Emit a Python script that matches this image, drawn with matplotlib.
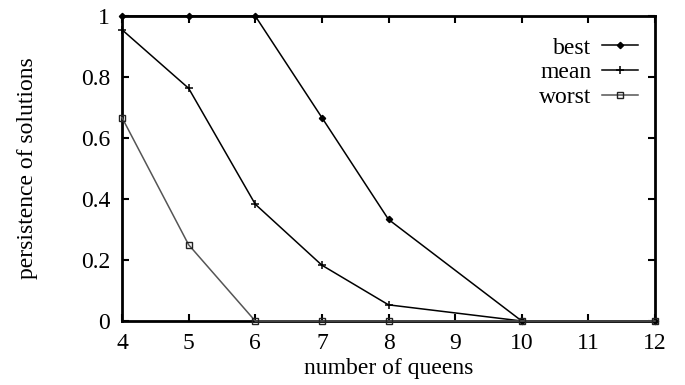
import matplotlib
matplotlib.use("Agg")
import matplotlib.pyplot as plt

queens = [4, 5, 6, 7, 8, 10, 12]
best = [1.0, 1.0, 1.0, 0.667, 0.333, 0.0, 0.0]
mean = [0.955, 0.763, 0.383, 0.183, 0.053, 0.0, 0.0]
worst = [0.667, 0.25, 0.0, 0.0, 0.0, 0.0, 0.0]

plt.rcParams['font.family'] = ['Liberation Serif', 'DejaVu Serif']
plt.rcParams['font.size'] = 17

fig = plt.figure(figsize=(6.85, 3.85), dpi=100)
ax = fig.add_axes([122/685, 1 - 321/385, (655-122)/685, (321-16)/385])

ax.plot(queens, best, color='black', lw=1.1, marker='D', ms=3.2, label='best', clip_on=False, zorder=3)
ax.plot(queens, mean, color='black', lw=1.1, marker='+', ms=5.5, mew=1.1, label='mean', clip_on=False, zorder=3)
ax.plot(queens, worst, color='#555555', lw=1.1, marker='s', ms=3.8, mfc='none', mec='#222222', mew=1.0, label='worst', clip_on=False, zorder=3)

ax.set_xlim(4, 12)
ax.set_ylim(0, 1)
ax.set_xticks(range(4, 13))
ax.set_yticks([0, 0.2, 0.4, 0.6, 0.8, 1])
ax.set_yticklabels(['0', '0.2', '0.4', '0.6', '0.8', '1'])
ax.tick_params(direction='in', top=True, right=True, length=5, width=1.5, pad=8.5)
for s in ax.spines.values():
    s.set_linewidth(2)

ax.set_xlabel('number of queens', labelpad=3)
ax.set_ylabel('persistence of solutions', labelpad=31)

ax.legend(loc='upper right', bbox_to_anchor=(1.0, 0.985), frameon=False, markerfirst=False,
          handlelength=1.55, handletextpad=0.45, labelspacing=0.13, borderaxespad=0.3,
          borderpad=0.4, fontsize=17)

fig.savefig('out.png', dpi=100)
